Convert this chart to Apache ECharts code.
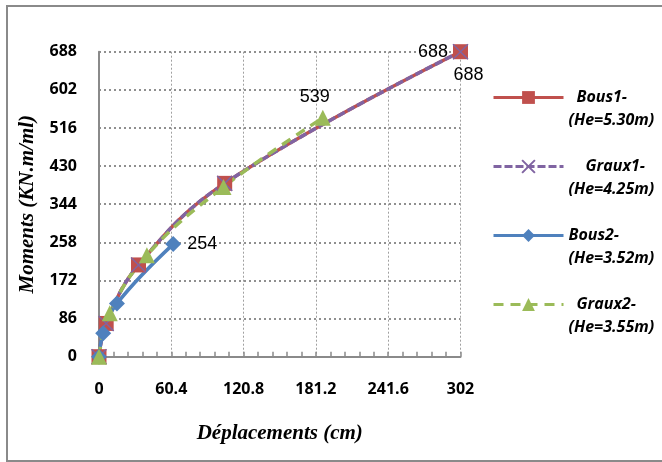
<!DOCTYPE html>
<html>
<head>
<meta charset="utf-8">
<script src="https://cdn.jsdelivr.net/npm/echarts@6/dist/echarts.min.js"></script>
<style>
html,body{margin:0;padding:0;background:#fff;}
#chart{width:662px;height:462px;}
</style>
</head>
<body>
<div id="chart"></div>
<script>
// Data
var bous1 = [[0,0],[6,75],[33,207],[105,391],[302,688]];
var graux1 = [[0,0],[6,75],[33,207],[105,391],[302,688]];
var bous2 = [[0,0],[3.5,53],[15,120],[62,254]];
var graux2 = [[0,0],[9,98],[40,229],[104,383],[187,539]];
var seriesNames = ['Bous1-\n(He=5.30m)','Graux1-\n(He=4.25m)','Bous2-\n(He=3.52m)','Graux2-\n(He=3.55m)'];
var xMax = 302, xStep = 60.4;
var yMax = 688, yStep = 86;

var chart = echarts.init(document.getElementById('chart'));
var lblFont = {fontFamily:'Liberation Sans', fontSize:18, color:'#000'};
var xMark = 'path://M0,0L10,10M10,0L0,10';

function lastLabel(data, opts){
  return data.map(function(p, i){
    if (i === data.length - 1) {
      return {value:p, label: Object.assign({show:true, formatter: String(p[1])}, lblFont, opts)};
    }
    return p;
  });
}

var indent = [8, 17, 0, 8];
var legendData = seriesNames.map(function(n){ return {name:n}; });
var lf = {fontFamily:'Open Sans', fontWeight:'bold', fontStyle:'italic', fontSize:16, lineHeight:23, color:'#000'};
function rs(pad){ return Object.assign({}, lf, {padding:[0,0,0,pad]}); }

chart.setOption({
  animation:false,
  backgroundColor:'#fff',
  graphic:[{type:'rect', shape:{x:7, y:6, width:700, height:455}, style:{fill:'none', stroke:'#8a8a8a', lineWidth:2}, silent:true}],
  grid:{left:99, right:201.5, top:51.7, bottom:105.3},
  legend:{
    orient:'vertical', left:487, top:58, itemWidth:70, itemHeight:16, itemGap:0,
    data:legendData,
    lineStyle:{width:3},
    formatter:function(name){
      var i = seriesNames.indexOf(name);
      var parts = name.split('\n');
      return '{a' + i + '|' + parts[0] + '}\n{b|' + parts[1] + '}';
    },
    textStyle:Object.assign({}, lf, {
      padding:[23,0,0,0],
      rich:{a0:rs(indent[0]), a1:rs(indent[1]), a2:rs(indent[2]), a3:rs(indent[3]), b:rs(0)}
    })
  },
  xAxis:{
    type:'value', min:0, max:xMax, interval:xStep,
    name:'Déplacements (cm)', nameLocation:'middle', nameGap:66,
    nameTextStyle:{fontFamily:'Liberation Serif', fontWeight:'bold', fontStyle:'italic', fontSize:21, color:'#000'},
    axisLine:{show:true, lineStyle:{color:'#8a8a8a', width:2}},
    axisTick:{show:true, inside:true, length:5, lineStyle:{color:'#8a8a8a', width:1.5}},
    minorTick:{show:true, splitNumber:5, length:5, lineStyle:{color:'#8a8a8a', width:1.5}},
    axisLabel:{margin:25, fontFamily:'Open Sans', fontWeight:'bold', fontSize:16, color:'#000',
      formatter:function(v){ return String(Math.round(v*10)/10); }},
    splitLine:{show:true, lineStyle:{color:'#a0a0a0', width:1, type:[2,2]}}
  },
  yAxis:{
    type:'value', min:0, max:yMax, interval:yStep,
    name:'Moments (KN.m/ml)', nameLocation:'middle', nameGap:61, nameRotate:90,
    nameTextStyle:{fontFamily:'Liberation Serif', fontWeight:'bold', fontStyle:'italic', fontSize:21, color:'#000'},
    axisLine:{show:true, lineStyle:{color:'#8a8a8a', width:2}},
    axisTick:{show:false},
    axisLabel:{margin:22, fontFamily:'Open Sans', fontWeight:'bold', fontSize:16, color:'#000'},
    splitLine:{show:true, lineStyle:{color:'#8f8f8f', width:2, type:[2,3]}}
  },
  series:[
    {name:seriesNames[0], type:'line', smooth:0.4, data:lastLabel(bous1,{position:'left', distance:5}),
      symbol:'rect', symbolSize:15, color:'#C0504D',
      lineStyle:{color:'#C0504D', width:3.5}, itemStyle:{color:'#C0504D'}},
    {name:seriesNames[1], type:'line', smooth:0.4, data:lastLabel(graux1,{position:'bottom', distance:6, offset:[8,0]}),
      symbol:xMark, symbolSize:15, color:'#8064A2',
      lineStyle:{color:'#8064A2', width:3.5, type:[8,3]}, itemStyle:{color:'#8064A2', borderColor:'#8064A2', borderWidth:1.5}},
    {name:seriesNames[2], type:'line', smooth:0.4, data:lastLabel(bous2,{position:'right', distance:6}),
      symbol:'diamond', symbolSize:16, color:'#4F81BD',
      lineStyle:{color:'#4F81BD', width:3.5}, itemStyle:{color:'#4F81BD'}},
    {name:seriesNames[3], type:'line', smooth:0.4, data:lastLabel(graux2,{position:'top', distance:4, offset:[-8,0]}),
      symbol:'triangle', symbolSize:16, color:'#9BBB59',
      lineStyle:{color:'#9BBB59', width:3.5, type:[10,7]}, itemStyle:{color:'#9BBB59'}}
  ]
});
</script>
</body>
</html>
